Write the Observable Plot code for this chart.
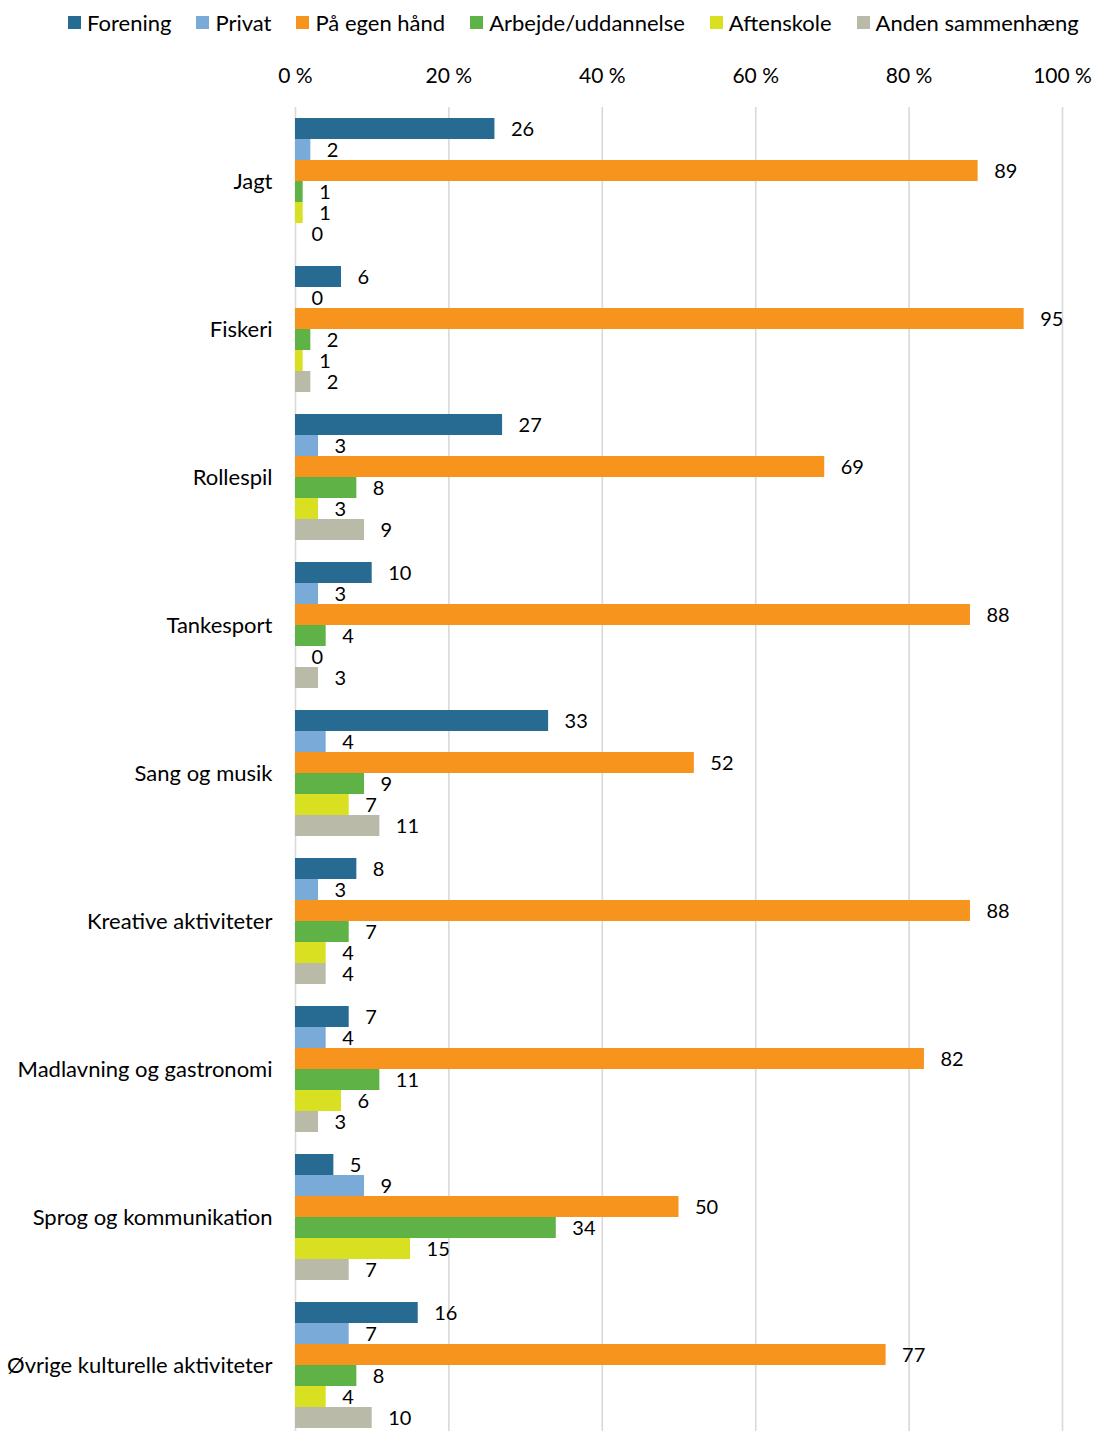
<!DOCTYPE html>
<html><head><meta charset="utf-8">
<script src="https://cdn.jsdelivr.net/npm/d3@7"></script>
<script src="https://cdn.jsdelivr.net/npm/@observablehq/plot@0.6"></script>
<style>
body{margin:0;background:#fff;font-family:Lato,"Open Sans",sans-serif;color:#000;}
#legend{height:45px;display:flex;align-items:center;padding-left:68px;gap:25px;box-sizing:border-box;padding-top:0px;}
.item{font-size:22px;display:flex;align-items:center;white-space:nowrap;}
.sw{width:13px;height:13px;margin-right:6px;display:inline-block;}
</style></head><body>
<div id="legend"></div><div id="chart"></div>
<script>
const categories = ["Jagt","Fiskeri","Rollespil","Tankesport","Sang og musik","Kreative aktiviteter","Madlavning og gastronomi","Sprog og kommunikation","Øvrige kulturelle aktiviteter"];
const series = ["Forening","Privat","På egen hånd","Arbejde/uddannelse","Aftenskole","Anden sammenhæng"];
const colors = ["#276a92","#7aabd8","#f7941d","#5eb246","#d8e021","#b9baa8"];
const forening = [26,6,27,10,33,8,7,5,16];
const privat = [2,0,3,3,4,3,4,9,7];
const paaEgenHaand = [89,95,69,88,52,88,82,50,77];
const arbejde = [1,2,8,4,9,7,11,34,8];
const aftenskole = [1,1,3,0,7,4,6,15,4];
const anden = [0,2,9,3,11,4,3,7,10];
const xTicks = [0,20,40,60,80,100];

const seriesValues = [forening, privat, paaEgenHaand, arbejde, aftenskole, anden];
const data = [];
categories.forEach((c,i)=>series.forEach((s,j)=>data.push({cat:c, series:s, value:seriesValues[j][i]})));

const legend = document.getElementById("legend");
series.forEach((s,j)=>{
  const it = document.createElement("div"); it.className="item";
  const sw = document.createElement("span"); sw.className="sw"; sw.style.background=colors[j];
  it.appendChild(sw); it.appendChild(document.createTextNode(s));
  legend.appendChild(it);
});

const chart = Plot.plot({
  width:1094, height:1386,
  marginLeft:295, marginRight:32, marginTop:62, marginBottom:0,
  style:{fontFamily:"Lato, 'Open Sans', sans-serif", fontSize:"20px", color:"#000", background:"#fff"},
  x:{domain:[0,100], range:[295,1062]},
  fy:{domain:categories, range:[62,1394], paddingInner:0.1486, paddingOuter:0.0743, label:null},
  y:{domain:series, padding:0, axis:null},
  color:{domain:series, range:colors},
  marks:[
    Plot.ruleX(xTicks, {stroke:"#d9d9d9", strokeWidth:1.6, insetTop:-11, insetBottom:-11}),
    Plot.barX(data, {x:"value", y:"series", fy:"cat", fill:"series"}),
    Plot.text(data, {x:"value", y:"series", fy:"cat", text:d=>String(d.value), dx:16, dy:1, textAnchor:"start", fontSize:20, fill:"#000"}),
    Plot.axisX(xTicks, {anchor:"top", tickSize:0, tickPadding:36, tickFormat:d=>d+" %", fontSize:21, label:null}),
    Plot.axisFy({anchor:"left", tickSize:0, tickPadding:23, fontSize:22, label:null})
  ]
});
document.getElementById("chart").appendChild(chart);
</script>
</body></html>
